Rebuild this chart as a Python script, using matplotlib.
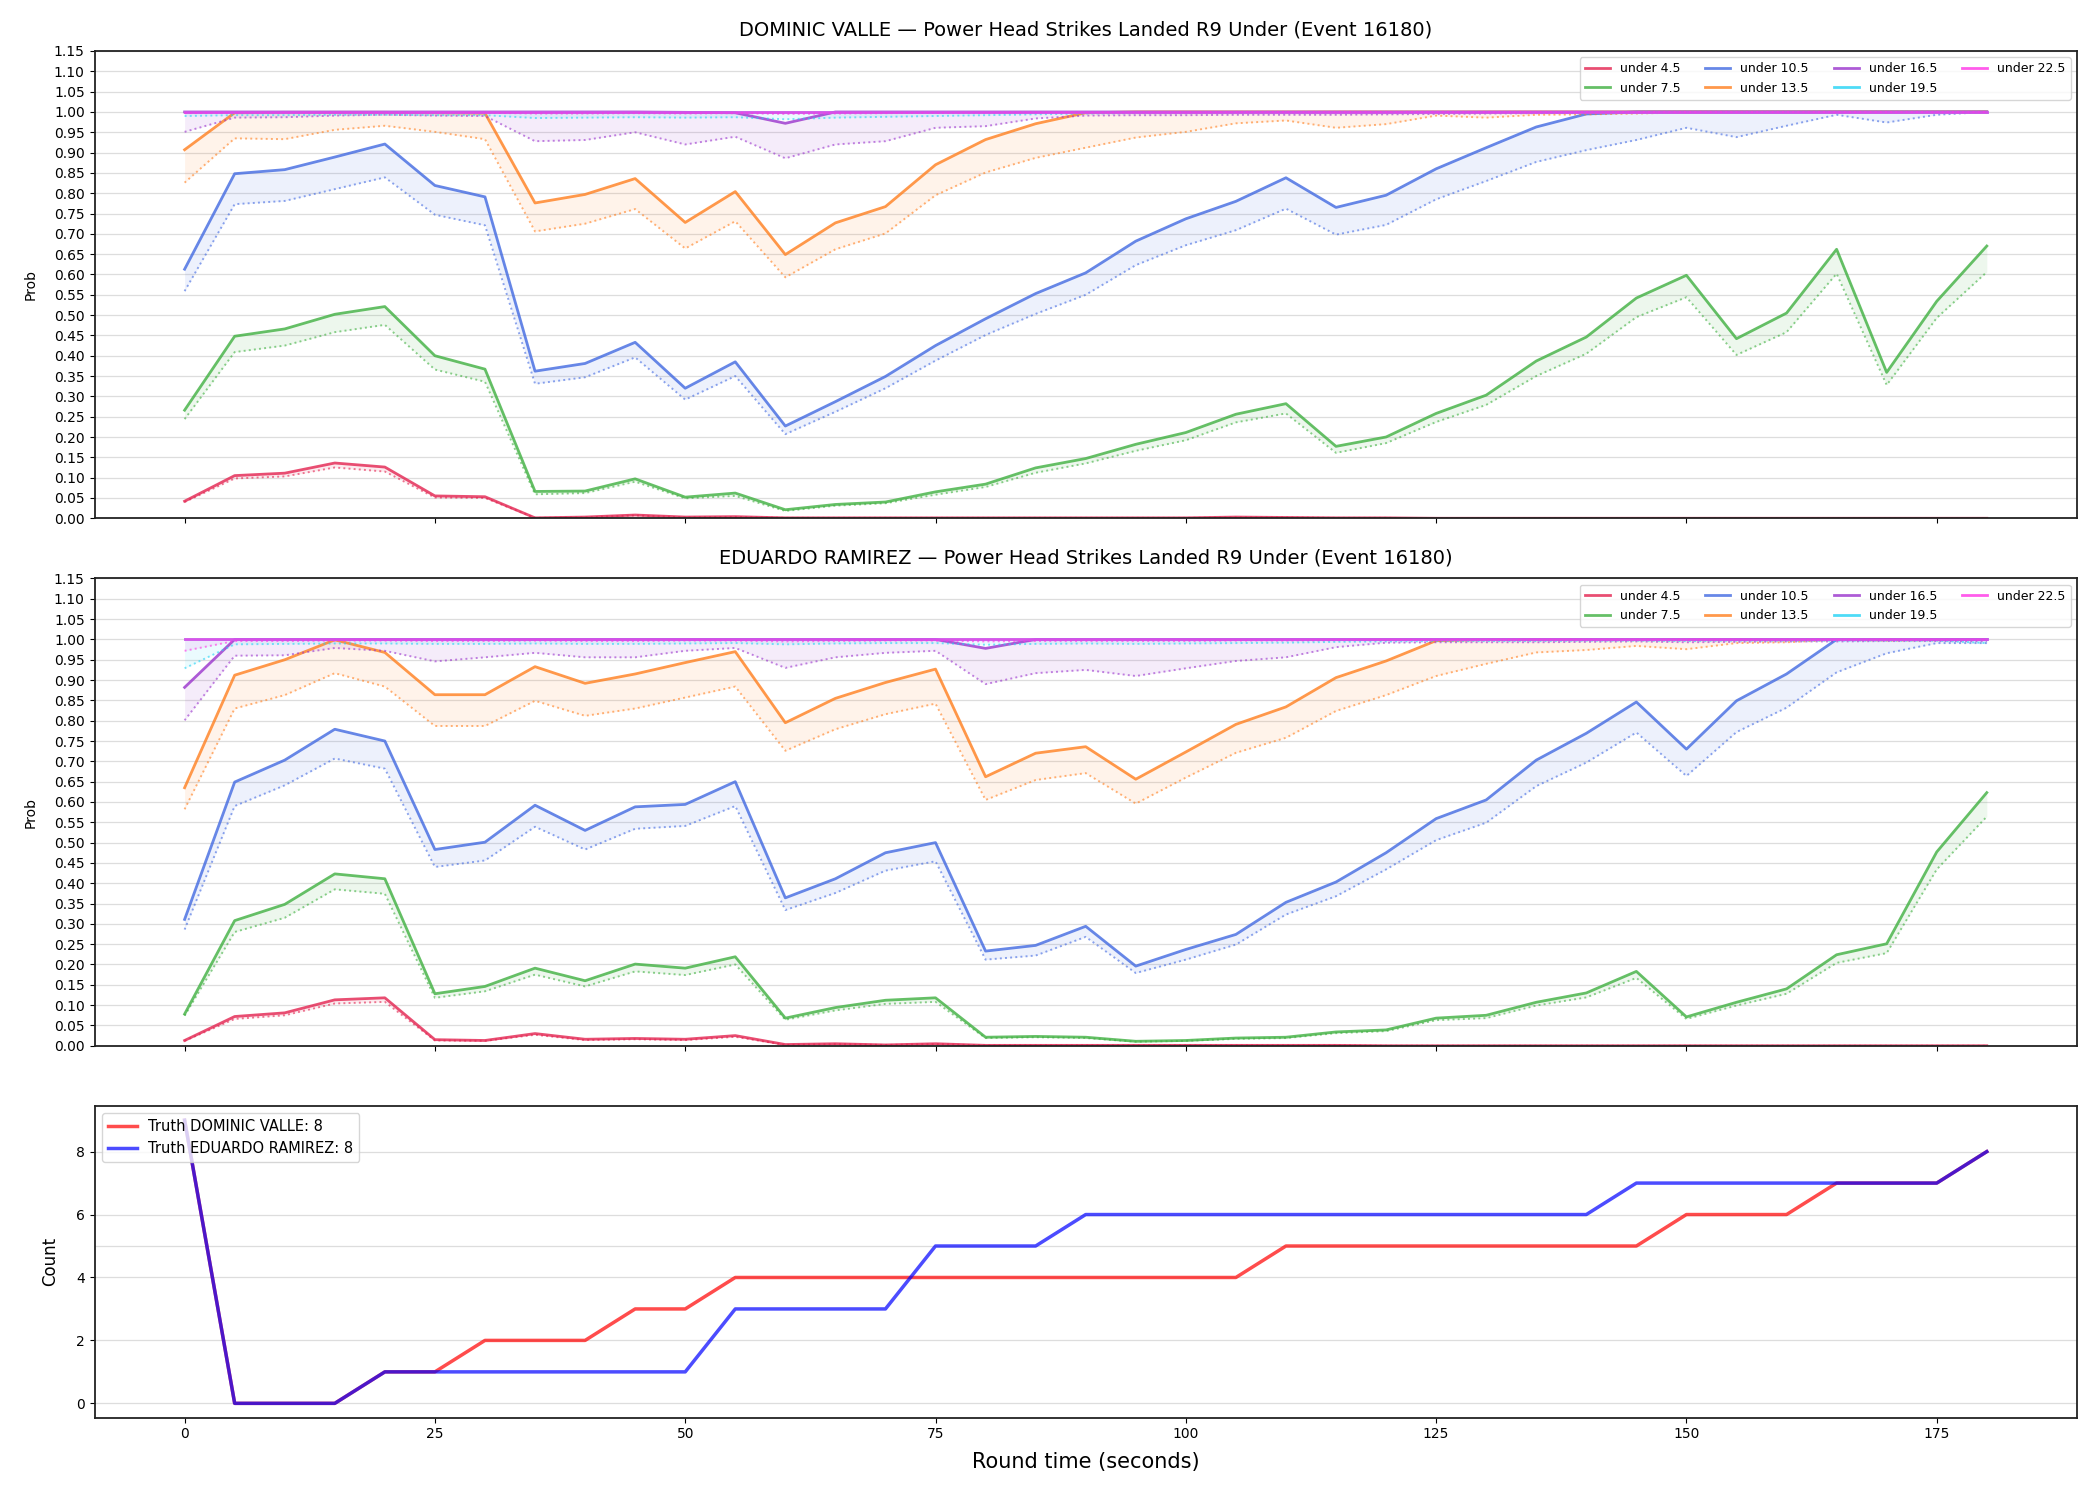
import numpy as np
import matplotlib
matplotlib.use("Agg")
import matplotlib.pyplot as plt

# round time (seconds)
t = list(range(0, 185, 5))

lines = ["under 4.5", "under 7.5", "under 10.5", "under 13.5", "under 16.5", "under 19.5", "under 22.5"]
colors = ["#e3224f", "#3fb040", "#4169e1", "#ff7f1e", "#9932cc", "#22d3f5", "#ff33e6"]

# ---- DOMINIC VALLE (solid = prob, dotted = lower)
dv_45 = [0.042, 0.105, 0.111, 0.136, 0.126, 0.055, 0.053, 0.001, 0.003, 0.008, 0.003, 0.004, 0.001, 0.001,
         0.001, 0.001, 0.001, 0.001, 0.001, 0.001, 0.001, 0.003, 0.002, 0.001, 0.001, 0.0, 0.0, 0.0, 0.0, 0.0,
         0.0, 0.0, 0.0, 0.0, 0.0, 0.0, 0.0]
dv_45_lo = [0.040, 0.098, 0.103, 0.125, 0.115, 0.051, 0.050, 0.001, 0.002, 0.007, 0.002, 0.003, 0.001, 0.001,
            0.001, 0.001, 0.001, 0.001, 0.001, 0.001, 0.001, 0.002, 0.002, 0.001, 0.001, 0.0, 0.0, 0.0, 0.0, 0.0,
            0.0, 0.0, 0.0, 0.0, 0.0, 0.0, 0.0]
dv_75 = [0.266, 0.448, 0.466, 0.502, 0.521, 0.400, 0.367, 0.066, 0.067, 0.097, 0.052, 0.062, 0.021, 0.034,
         0.040, 0.065, 0.084, 0.124, 0.147, 0.182, 0.211, 0.256, 0.282, 0.177, 0.200, 0.258, 0.303, 0.387,
         0.446, 0.542, 0.598, 0.442, 0.505, 0.662, 0.359, 0.534, 0.670]
dv_75_lo = [0.244, 0.409, 0.425, 0.458, 0.476, 0.366, 0.336, 0.059, 0.062, 0.090, 0.049, 0.055, 0.018, 0.031,
            0.037, 0.058, 0.077, 0.112, 0.135, 0.166, 0.192, 0.236, 0.258, 0.161, 0.185, 0.237, 0.279, 0.350,
            0.405, 0.495, 0.544, 0.402, 0.458, 0.602, 0.328, 0.493, 0.606]
dv_105 = [0.613, 0.848, 0.858, 0.889, 0.921, 0.819, 0.791, 0.362, 0.381, 0.433, 0.320, 0.385, 0.227, 0.287,
          0.349, 0.425, 0.491, 0.553, 0.604, 0.682, 0.737, 0.780, 0.838, 0.765, 0.795, 0.860, 0.912, 0.963,
          0.995, 1.0, 1.0, 1.0, 1.0, 1.0, 1.0, 1.0, 1.0]
dv_105_lo = [0.559, 0.773, 0.781, 0.810, 0.839, 0.747, 0.721, 0.331, 0.347, 0.396, 0.292, 0.350, 0.207, 0.262,
             0.320, 0.388, 0.451, 0.503, 0.550, 0.623, 0.672, 0.709, 0.762, 0.698, 0.722, 0.785, 0.830, 0.877,
             0.906, 0.931, 0.961, 0.938, 0.966, 0.993, 0.974, 0.993, 1.0]
dv_135 = [0.907, 0.998, 0.999, 0.999, 0.999, 0.998, 0.997, 0.776, 0.797, 0.836, 0.728, 0.804, 0.649, 0.727,
          0.767, 0.870, 0.932, 0.971, 0.998, 1.0, 1.0, 1.0, 1.0, 1.0, 1.0, 1.0, 1.0, 1.0, 1.0, 1.0,
          1.0, 1.0, 1.0, 1.0, 1.0, 1.0, 1.0]
dv_135_lo = [0.826, 0.935, 0.933, 0.956, 0.966, 0.951, 0.933, 0.706, 0.725, 0.761, 0.664, 0.731, 0.593, 0.662,
             0.701, 0.795, 0.851, 0.887, 0.912, 0.937, 0.951, 0.972, 0.979, 0.961, 0.970, 0.991, 0.986, 0.993,
             0.994, 0.996, 0.999, 1.0, 1.0, 1.0, 1.0, 1.0, 1.0]
dv_165 = [1.0, 1.0, 1.0, 1.0, 1.0, 1.0, 1.0, 1.0, 1.0, 1.0, 0.999, 0.998, 0.972, 1.0,
          1.0, 1.0, 1.0, 1.0, 1.0, 1.0, 1.0, 1.0, 1.0, 1.0, 1.0, 1.0, 1.0, 1.0, 1.0, 1.0,
          1.0, 1.0, 1.0, 1.0, 1.0, 1.0, 1.0]
dv_165_lo = [0.951, 0.986, 0.987, 0.991, 0.993, 0.991, 0.990, 0.928, 0.931, 0.950, 0.920, 0.939, 0.886, 0.920,
             0.928, 0.961, 0.965, 0.984, 0.991, 0.992, 0.992, 0.993, 0.993, 0.993, 0.994, 0.995, 0.996, 0.997,
             0.998, 0.999, 1.0, 1.0, 1.0, 1.0, 1.0, 1.0, 1.0]
dv_195 = [1.0] * 37
dv_195_lo = [0.990, 0.992, 0.992, 0.993, 0.993, 0.992, 0.992, 0.985, 0.986, 0.987, 0.986, 0.987, 0.982, 0.986,
             0.988, 0.990, 0.992, 0.994, 0.996, 0.997, 0.997, 0.998, 0.998, 0.998, 0.998, 0.999, 0.999, 0.999,
             0.999, 1.0, 1.0, 1.0, 1.0, 1.0, 1.0, 1.0, 1.0]
dv_225 = [1.0] * 37
dv_225_lo = [0.997, 0.998, 0.998, 0.998, 0.998, 0.998, 0.998, 0.996, 0.996, 0.997, 0.996, 0.997, 0.995, 0.996,
             0.997, 0.998, 0.998, 0.999, 0.999, 0.999, 0.999, 1.0, 1.0, 1.0, 1.0, 1.0, 1.0, 1.0,
             1.0, 1.0, 1.0, 1.0, 1.0, 1.0, 1.0, 1.0, 1.0]

# ---- EDUARDO RAMIREZ
er_45 = [0.013, 0.072, 0.081, 0.113, 0.118, 0.015, 0.013, 0.030, 0.016, 0.018, 0.016, 0.025, 0.003, 0.005,
         0.002, 0.005, 0.001, 0.001, 0.001, 0.001, 0.001, 0.001, 0.001, 0.001, 0.0, 0.0, 0.0, 0.0, 0.0, 0.0,
         0.0, 0.0, 0.0, 0.0, 0.0, 0.0, 0.0]
er_45_lo = [0.012, 0.066, 0.075, 0.104, 0.108, 0.013, 0.012, 0.027, 0.014, 0.016, 0.014, 0.022, 0.002, 0.004,
            0.002, 0.004, 0.001, 0.001, 0.001, 0.001, 0.001, 0.001, 0.001, 0.001, 0.0, 0.0, 0.0, 0.0, 0.0, 0.0,
            0.0, 0.0, 0.0, 0.0, 0.0, 0.0, 0.0]
er_75 = [0.078, 0.308, 0.348, 0.423, 0.411, 0.128, 0.146, 0.191, 0.160, 0.201, 0.191, 0.219, 0.068, 0.094,
         0.112, 0.118, 0.021, 0.023, 0.021, 0.011, 0.013, 0.019, 0.021, 0.034, 0.039, 0.068, 0.075, 0.107,
         0.130, 0.183, 0.071, 0.107, 0.140, 0.224, 0.251, 0.477, 0.623]
er_75_lo = [0.074, 0.280, 0.315, 0.385, 0.374, 0.118, 0.134, 0.175, 0.146, 0.183, 0.174, 0.200, 0.064, 0.087,
            0.103, 0.108, 0.019, 0.021, 0.019, 0.010, 0.012, 0.017, 0.019, 0.031, 0.036, 0.063, 0.068, 0.099,
            0.119, 0.167, 0.066, 0.099, 0.128, 0.204, 0.228, 0.434, 0.564]
er_105 = [0.311, 0.649, 0.703, 0.779, 0.750, 0.483, 0.501, 0.592, 0.530, 0.588, 0.594, 0.650, 0.364, 0.411,
          0.475, 0.500, 0.233, 0.247, 0.294, 0.196, 0.237, 0.274, 0.353, 0.403, 0.475, 0.559, 0.605, 0.703,
          0.769, 0.846, 0.730, 0.849, 0.915, 1.0, 1.0, 1.0, 1.0]
er_105_lo = [0.286, 0.590, 0.641, 0.707, 0.682, 0.440, 0.456, 0.539, 0.483, 0.534, 0.541, 0.590, 0.334, 0.376,
             0.431, 0.454, 0.212, 0.222, 0.268, 0.179, 0.212, 0.249, 0.323, 0.368, 0.434, 0.506, 0.549, 0.639,
             0.697, 0.771, 0.664, 0.772, 0.832, 0.919, 0.966, 0.991, 0.991]
er_135 = [0.635, 0.912, 0.950, 0.999, 0.968, 0.864, 0.864, 0.933, 0.892, 0.915, 0.943, 0.970, 0.795, 0.855,
          0.894, 0.927, 0.662, 0.720, 0.736, 0.656, 0.723, 0.791, 0.834, 0.906, 0.947, 0.997, 1.0, 1.0,
          1.0, 1.0, 1.0, 1.0, 1.0, 1.0, 1.0, 1.0, 1.0]
er_135_lo = [0.582, 0.830, 0.863, 0.917, 0.884, 0.787, 0.787, 0.849, 0.812, 0.830, 0.857, 0.884, 0.726, 0.779,
             0.816, 0.842, 0.605, 0.654, 0.671, 0.596, 0.660, 0.721, 0.758, 0.824, 0.863, 0.910, 0.940, 0.968,
             0.974, 0.984, 0.976, 0.991, 0.993, 0.999, 0.997, 0.998, 0.999]
er_165 = [0.882, 1.0, 1.0, 1.0, 1.0, 1.0, 1.0, 1.0, 1.0, 1.0, 1.0, 1.0, 1.0, 1.0,
          1.0, 1.0, 0.978, 1.0, 1.0, 1.0, 1.0, 1.0, 1.0, 1.0, 1.0, 1.0, 1.0, 1.0, 1.0, 1.0,
          1.0, 1.0, 1.0, 1.0, 1.0, 1.0, 1.0]
er_165_lo = [0.801, 0.960, 0.961, 0.979, 0.972, 0.946, 0.956, 0.967, 0.956, 0.956, 0.972, 0.979, 0.930, 0.956,
             0.967, 0.972, 0.890, 0.917, 0.925, 0.910, 0.929, 0.947, 0.956, 0.981, 0.992, 0.993, 0.993, 0.993,
             0.994, 0.995, 0.993, 0.994, 0.995, 0.995, 0.996, 0.996, 0.996]
er_195 = [1.0] * 37
er_195_lo = [0.929, 0.988, 0.989, 0.990, 0.990, 0.989, 0.989, 0.990, 0.989, 0.989, 0.990, 0.991, 0.988, 0.990,
             0.991, 0.991, 0.987, 0.989, 0.990, 0.989, 0.990, 0.991, 0.992, 0.994, 0.995, 0.996, 0.996, 0.996,
             0.997, 0.997, 0.996, 0.997, 0.997, 0.997, 0.997, 0.997, 0.991]
er_225 = [1.0] * 37
er_225_lo = [0.972, 0.996, 0.996, 0.997, 0.997, 0.996, 0.996, 0.997, 0.996, 0.996, 0.997, 0.997, 0.995, 0.996,
             0.997, 0.997, 0.995, 0.996, 0.996, 0.996, 0.996, 0.997, 0.997, 0.998, 0.998, 0.999, 0.999, 0.999,
             0.999, 0.999, 0.999, 0.999, 0.999, 0.999, 0.999, 0.999, 0.999]

# ---- truth counts
truth_dv = [9, 0, 0, 0, 1, 1, 2, 2, 2, 3, 3, 4, 4, 4, 4, 4, 4, 4, 4, 4, 4, 4, 5, 5, 5, 5, 5, 5, 5, 5,
            6, 6, 6, 7, 7, 7, 8]
truth_er = [9, 0, 0, 0, 1, 1, 1, 1, 1, 1, 1, 3, 3, 3, 3, 5, 5, 5, 6, 6, 6, 6, 6, 6, 6, 6, 6, 6, 6, 7,
            7, 7, 7, 7, 7, 7, 8]

dv = [(dv_45, dv_45_lo), (dv_75, dv_75_lo), (dv_105, dv_105_lo), (dv_135, dv_135_lo),
      (dv_165, dv_165_lo), (dv_195, dv_195_lo), (dv_225, dv_225_lo)]
er = [(er_45, er_45_lo), (er_75, er_75_lo), (er_105, er_105_lo), (er_135, er_135_lo),
      (er_165, er_165_lo), (er_195, er_195_lo), (er_225, er_225_lo)]

fig, axes = plt.subplots(3, 1, figsize=(21, 15), dpi=100, sharex=True,
                         gridspec_kw={"height_ratios": [3, 3, 2]})
fig.subplots_adjust(left=0.045, right=0.989, top=0.966, bottom=0.055, hspace=0.145)

yt = np.round(np.arange(0, 1.151, 0.05), 2)

for ax, data, name in [(axes[0], dv, "DOMINIC VALLE"), (axes[1], er, "EDUARDO RAMIREZ")]:
    for (p, lo), lab, c in zip(data, lines, colors):
        ax.fill_between(t, lo, p, color=c, alpha=0.09, lw=0)
        ax.plot(t, lo, ":", color=c, lw=1.4, alpha=0.6)
        ax.plot(t, p, "-", color=c, lw=2, alpha=0.8, label=lab)
    ax.set_ylim(0, 1.15)
    ax.set_yticks(yt)
    ax.set_yticklabels(["%.2f" % v for v in yt])
    ax.set_ylabel("Prob", fontsize=10, labelpad=12)
    ax.set_title(name + " \u2014 Power Head Strikes Landed R9 Under (Event 16180)", fontsize=14, pad=11)
    ax.grid(axis="y", color="#dddddd", lw=0.9)
    ax.set_axisbelow(True)
    ax.legend(loc="upper right", ncol=4, fontsize=9)
    ax.tick_params(labelsize=10)

ax = axes[2]
ax.plot(t, truth_dv, color="red", lw=2.5, alpha=0.7, label="Truth DOMINIC VALLE: 8")
ax.plot(t, truth_er, color="blue", lw=2.5, alpha=0.7, label="Truth EDUARDO RAMIREZ: 8")
ax.axhline(5, color="#dddddd", lw=0.9, zorder=0)
ax.set_yticks([0, 2, 4, 6, 8])
ax.grid(axis="y", color="#dddddd", lw=0.9)
ax.set_axisbelow(True)
ax.set_ylabel("Count", fontsize=12, labelpad=12)
ax.set_xlabel("Round time (seconds)", fontsize=15, labelpad=8)
ax.legend(loc="upper left", fontsize=10.5)
ax.tick_params(labelsize=10)
ax.set_xticks([0, 25, 50, 75, 100, 125, 150, 175])

for a in axes:
    for s in a.spines.values():
        s.set_linewidth(1.3)
        s.set_color("#222222")

fig.savefig("out.png", dpi=100)
